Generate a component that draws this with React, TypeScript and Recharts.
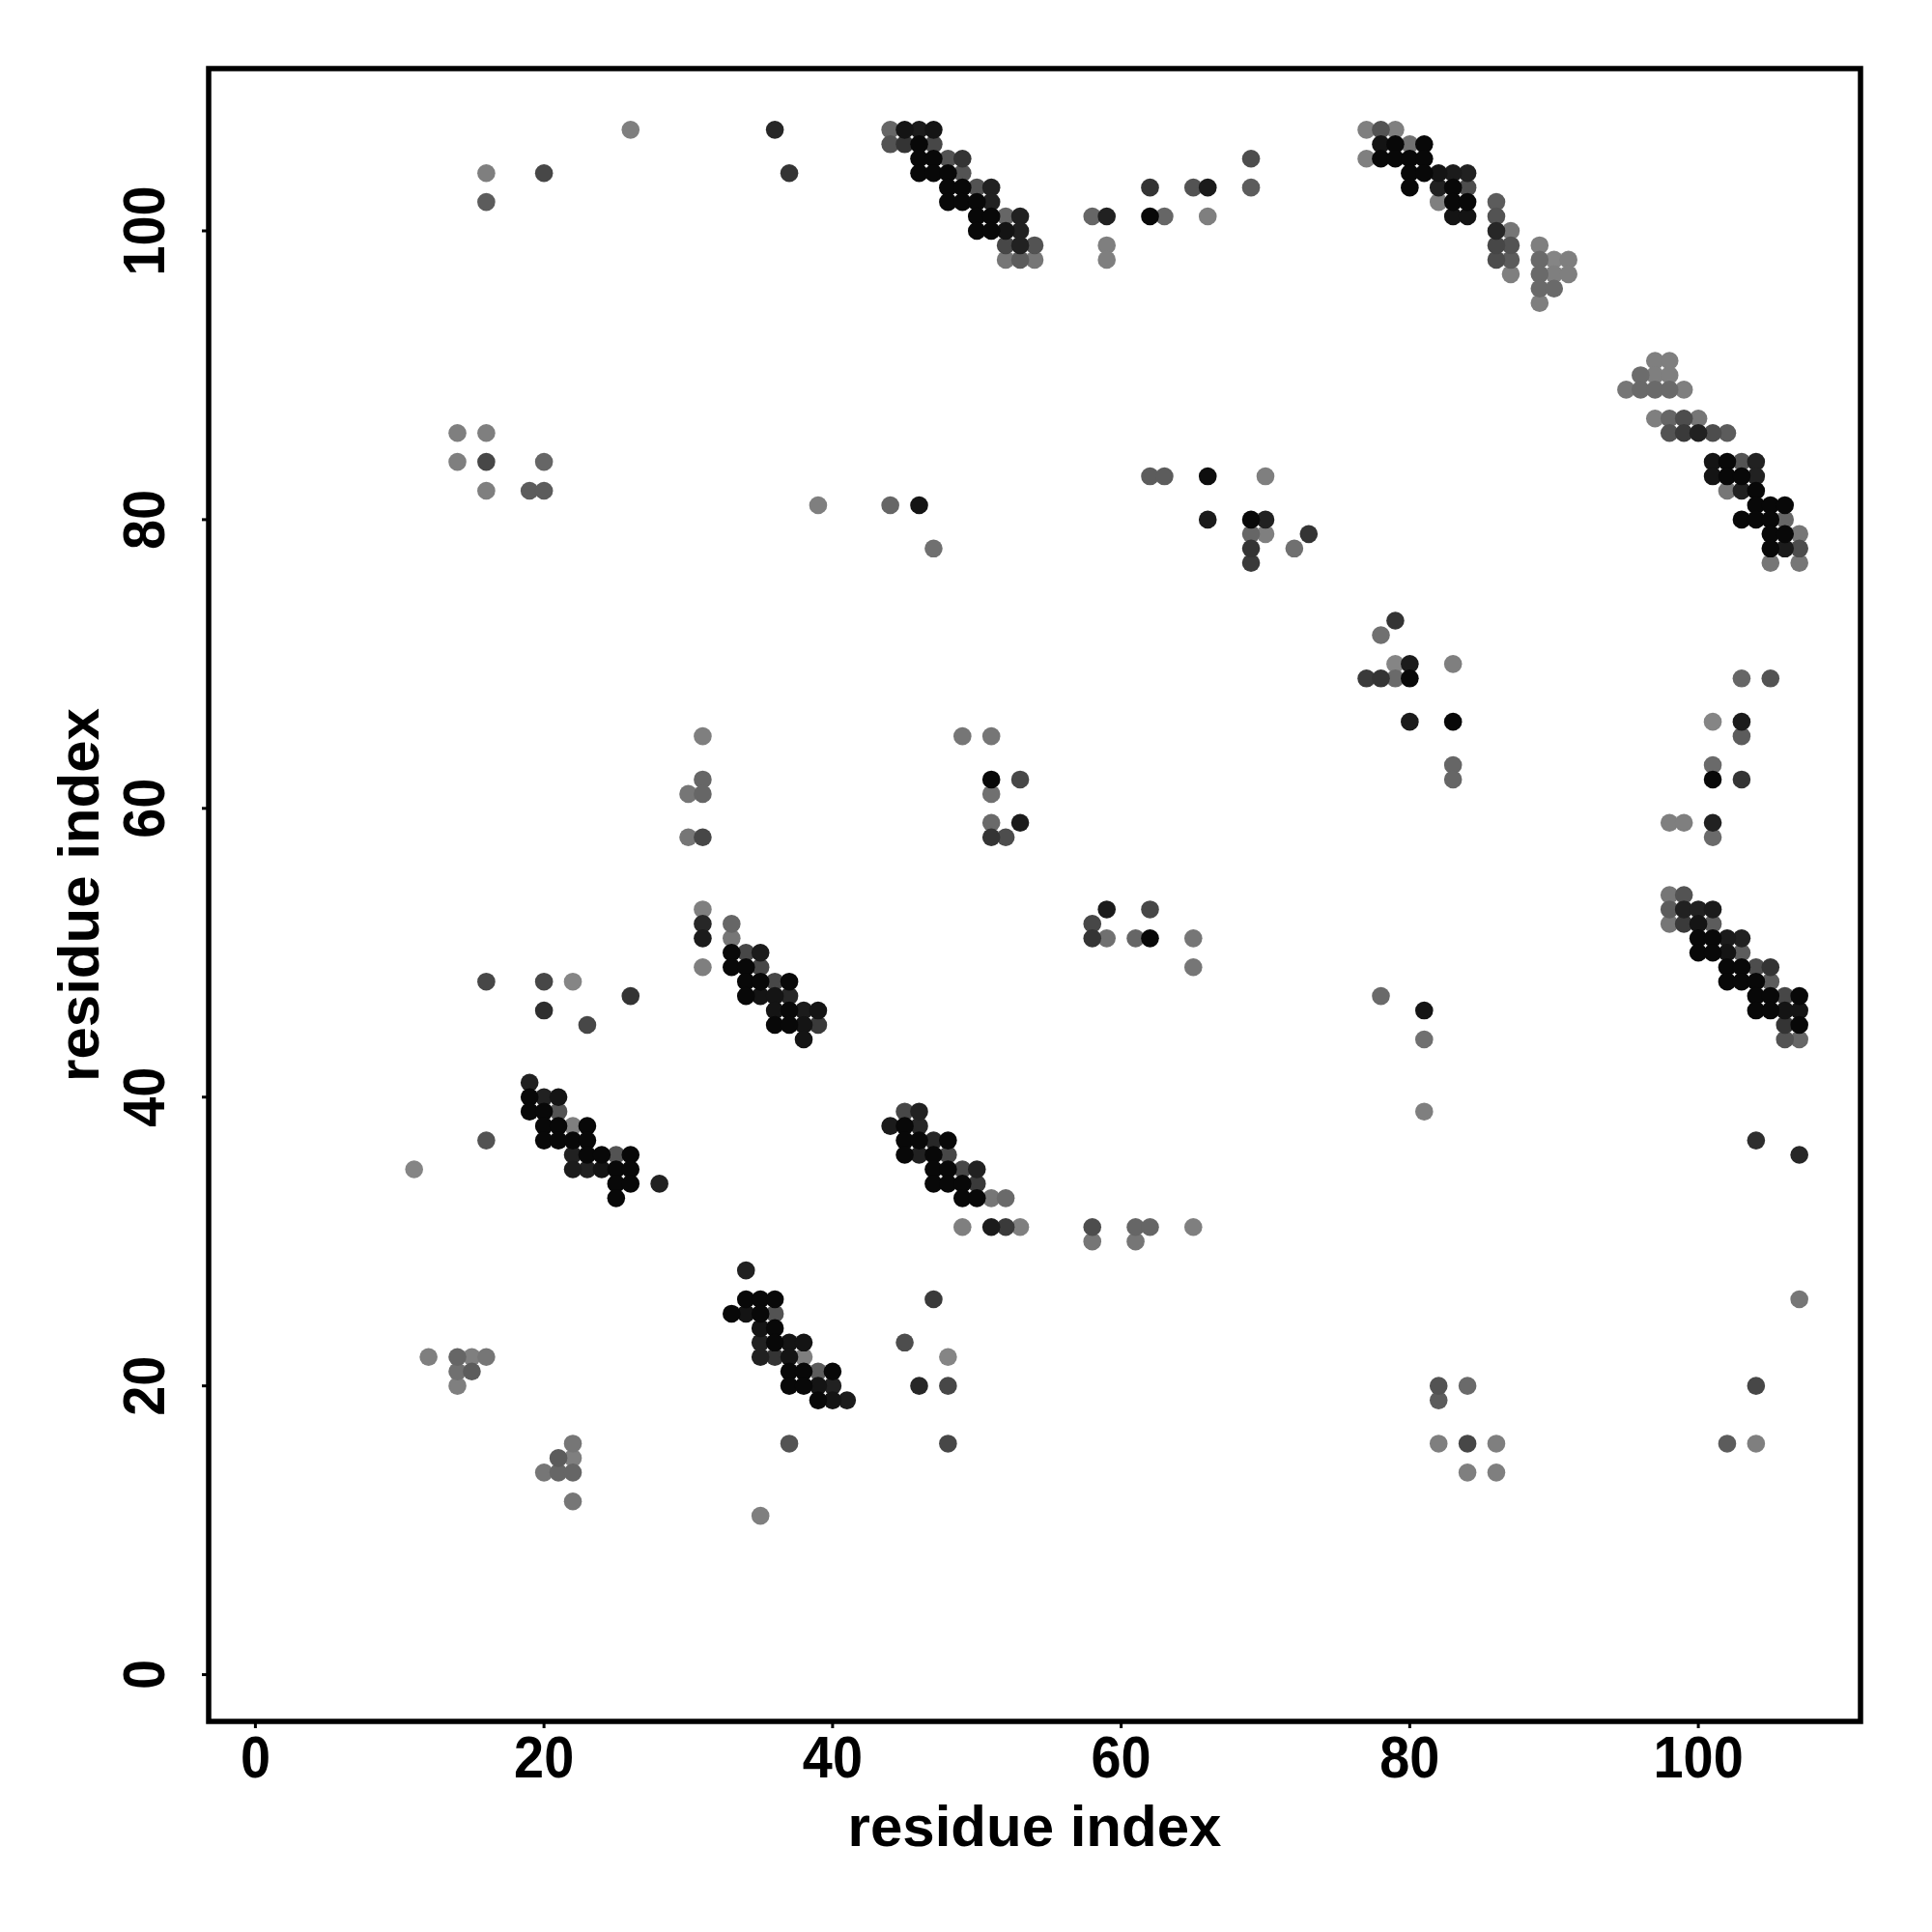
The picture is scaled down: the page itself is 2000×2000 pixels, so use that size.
import { ReferenceArea, Scatter, ScatterChart, XAxis, YAxis } from "recharts";

// each entry: [residue i, residue j, contact score 0..1]
const topLeftContacts = [
  [26, 107, 0.05], [36, 107, 0.75], [16, 104, 0.05], [20, 104, 0.5], [37, 104, 0.65], [16, 102, 0.33],
  [14, 86, 0.05], [16, 86, 0.05], [14, 84, 0.05], [16, 84, 0.5], [20, 84, 0.25], [16, 82, 0.05],
  [19, 82, 0.33], [20, 82, 0.33], [39, 81, 0.05],
];

const band44to54 = [
  [44, 107, 0.25], [45, 107, 0.9], [46, 107, 0.85], [47, 107, 0.9],
  [44, 106, 0.4], [45, 106, 0.65], [46, 106, 1], [47, 106, 0.5],
  [46, 105, 1], [47, 105, 1], [48, 105, 0.4], [49, 105, 0.65],
  [46, 104, 1], [47, 104, 1], [48, 104, 1], [49, 104, 0.4],
  [48, 103, 1], [49, 103, 1], [50, 103, 0.4], [51, 103, 0.8],
  [48, 102, 1], [49, 102, 1], [50, 102, 1], [51, 102, 0.8],
  [50, 101, 1], [51, 101, 1], [52, 101, 0.25], [53, 101, 0.8],
  [50, 100, 1], [51, 100, 1], [52, 100, 0.9], [53, 100, 0.8],
  [52, 99, 0.5], [53, 99, 0.8], [54, 99, 0.4],
  [52, 98, 0.12], [53, 98, 0.33], [54, 98, 0.12],
];

const topMiddleContacts = [
  [58, 101, 0.25], [59, 101, 0.8], [59, 99, 0.05], [59, 98, 0.05],
  [62, 103, 0.65], [62, 101, 1], [63, 101, 0.25], [65, 103, 0.4], [66, 103, 0.85], [66, 101, 0.05],
  [69, 105, 0.45], [69, 103, 0.33],
  [62, 83, 0.33], [63, 83, 0.33], [66, 83, 0.95], [70, 83, 0.05],
  [44, 81, 0.25], [46, 81, 0.9], [47, 78, 0.17],
  [66, 80, 0.85], [69, 80, 1], [70, 80, 0.8], [69, 79, 0.25], [70, 79, 0.05], [73, 79, 0.65],
  [72, 78, 0.17], [69, 78, 0.65], [69, 77, 0.6],
];

const band77to91 = [
  [77, 107, 0.05], [78, 107, 0.4], [79, 107, 0.05],
  [78, 106, 0.9], [79, 106, 1], [80, 106, 0.17], [81, 106, 1],
  [77, 105, 0.05], [78, 105, 1], [79, 105, 1], [80, 105, 1], [81, 105, 1],
  [80, 104, 1], [81, 104, 1], [82, 104, 0.9], [83, 104, 0.85], [84, 104, 0.8],
  [80, 103, 1], [82, 103, 0.8], [83, 103, 1], [84, 103, 0.45],
  [82, 102, 0.05], [83, 102, 1], [84, 102, 1], [86, 102, 0.33],
  [83, 101, 0.9], [84, 101, 0.9], [86, 101, 0.4],
  [86, 100, 0.75], [87, 100, 0.12],
  [86, 99, 0.5], [87, 99, 0.4], [89, 99, 0.05],
  [86, 98, 0.45], [87, 98, 0.33], [89, 98, 0.22], [90, 98, 0], [91, 98, 0.05],
  [87, 97, 0.05], [89, 97, 0.22], [90, 97, 0.05], [91, 97, 0.05],
  [89, 96, 0.22], [90, 96, 0.22],
  [89, 95, 0.05],
];

const band95to107 = [
  [97, 91, 0.05], [98, 91, 0.05],
  [96, 90, 0.2], [97, 90, 0.05], [98, 90, 0.05],
  [95, 89, 0.12], [96, 89, 0.22], [97, 89, 0.22], [98, 89, 0.22], [99, 89, 0.05],
  [97, 87, 0.05], [98, 87, 0.25], [99, 87, 0.45], [100, 87, 0.12],
  [98, 86, 0.4], [99, 86, 0.6], [100, 86, 0.8], [101, 86, 0.45], [102, 86, 0.33],
  [101, 84, 0.9], [102, 84, 1], [103, 84, 0.4], [104, 84, 0.8],
  [101, 83, 0.9], [102, 83, 1], [103, 83, 1], [104, 83, 0.8],
  [102, 82, 0.12], [103, 82, 0.8], [104, 82, 1],
  [104, 81, 1], [105, 81, 1], [106, 81, 1],
  [103, 80, 1], [104, 80, 1], [105, 80, 1], [106, 80, 0.25],
  [105, 79, 1], [106, 79, 1], [107, 79, 0.12],
  [105, 78, 1], [106, 78, 0.85], [107, 78, 0.45],
  [105, 77, 0.12], [107, 77, 0.12],
];

const band33to39 = [
  [31, 65, 0.05], [31, 62, 0.25], [30, 61, 0.12], [31, 61, 0.25], [30, 58, 0.12], [31, 58, 0.5],
  [31, 53, 0.05], [31, 52, 0.75], [31, 51, 0.85], [31, 49, 0.05],
  [33, 52, 0.25], [33, 51, 0.12],
  [33, 50, 1], [34, 50, 0.5], [35, 50, 0.85],
  [33, 49, 1], [34, 49, 1], [35, 49, 0.5],
  [34, 48, 1], [35, 48, 1], [36, 48, 0.5], [37, 48, 1],
  [34, 47, 1], [35, 47, 0.9], [36, 47, 0.9], [37, 47, 0.75],
  [36, 46, 0.9], [37, 46, 1], [38, 46, 0.85], [39, 46, 0.9],
  [36, 45, 1], [37, 45, 1], [38, 45, 0.9], [39, 45, 0.6],
  [38, 44, 0.9],
];

const leftMidContacts = [
  [16, 48, 0.5], [20, 48, 0.5], [22, 48, 0], [20, 46, 0.7], [26, 47, 0.65], [23, 45, 0.5],
];

const midContacts = [
  [49, 65, 0.12], [51, 65, 0.12], [51, 62, 1], [53, 62, 0.5], [51, 61, 0.17], [51, 59, 0.22],
  [53, 59, 0.85], [51, 58, 0.65], [52, 58, 0.45],
  [59, 53, 0.85], [62, 53, 0.5], [58, 52, 0.5], [58, 51, 0.65], [59, 51, 0.17], [61, 51, 0.25],
  [62, 51, 1], [65, 51, 0.12], [65, 49, 0.12],
];

const rightMidContacts = [
  [79, 73, 0.65], [78, 72, 0.17], [79, 70, 0], [80, 70, 0.85], [77, 69, 0.6], [78, 69, 0.65],
  [79, 69, 0.22], [80, 69, 1], [83, 70, 0.05],
  [80, 66, 0.85], [83, 66, 1], [83, 63, 0.25], [83, 62, 0.25],
  [103, 69, 0.25], [105, 69, 0.4], [101, 66, 0], [103, 66, 0.85], [103, 65, 0.33], [101, 63, 0.22],
  [101, 62, 1], [103, 62, 0.65],
  [98, 59, 0.05], [99, 59, 0.05], [101, 59, 0.8], [101, 58, 0.22],
  [78, 47, 0.22], [81, 46, 0.9], [81, 44, 0.17],
];

const band98to107 = [
  [98, 54, 0.12], [99, 54, 0.4],
  [98, 53, 0.33], [99, 53, 0.8], [100, 53, 0.8], [101, 53, 0.85],
  [98, 52, 0.12], [99, 52, 0.6], [100, 52, 0.9], [101, 52, 0.33],
  [100, 51, 1], [101, 51, 1], [102, 51, 0.85], [103, 51, 0.8],
  [100, 50, 1], [101, 50, 1], [102, 50, 0.9], [103, 50, 0.33],
  [102, 49, 1], [103, 49, 1], [104, 49, 0.45], [105, 49, 0.65],
  [102, 48, 1], [103, 48, 1], [104, 48, 1], [105, 48, 0.33],
  [104, 47, 1], [105, 47, 1], [106, 47, 0.5], [107, 47, 1],
  [104, 46, 1], [105, 46, 1], [106, 46, 0.9], [107, 46, 0.9],
  [106, 45, 0.65], [107, 45, 1],
  [106, 44, 0.4], [107, 44, 0.25],
];

const band19to28 = [
  [19, 41, 0.8],
  [19, 40, 1], [20, 40, 0.8], [21, 40, 0.9],
  [19, 39, 1], [20, 39, 1], [21, 39, 0.4],
  [20, 38, 1], [21, 38, 1], [22, 38, 0.05], [23, 38, 1],
  [20, 37, 1], [21, 37, 1], [22, 37, 1], [23, 37, 1],
  [22, 36, 0.8], [23, 36, 1], [24, 36, 1], [25, 36, 0.4], [26, 36, 1],
  [22, 35, 0.85], [23, 35, 0.8], [24, 35, 0.9], [25, 35, 1], [26, 35, 1],
  [25, 34, 1], [26, 34, 1], [28, 34, 0.8],
  [25, 33, 1],
  [16, 37, 0.4], [11, 35, 0],
];

const band33to41 = [
  [34, 28, 0.8],
  [34, 26, 1], [35, 26, 1], [36, 26, 1],
  [33, 25, 1], [34, 25, 0.9], [35, 25, 1], [36, 25, 0.4],
  [35, 24, 0.9], [36, 24, 1],
  [35, 23, 0.8], [36, 23, 1], [37, 23, 0.9], [38, 23, 0.9],
  [35, 22, 0.8], [36, 22, 0.65], [37, 22, 0.9], [38, 22, 0.05],
  [37, 21, 1], [38, 21, 1], [39, 21, 0.33], [40, 21, 1],
  [37, 20, 1], [38, 20, 1], [39, 20, 0.9], [40, 20, 0.8],
  [39, 19, 1], [40, 19, 0.9], [41, 19, 0.85],
];

const lowLeftContacts = [
  [12, 22, 0.05], [14, 22, 0.25], [15, 22, 0.05], [16, 22, 0.12], [14, 21, 0.17], [15, 21, 0.33],
  [14, 20, 0.05],
  [22, 16, 0.12], [21, 15, 0.33], [22, 15, 0.05], [20, 14, 0.12], [21, 14, 0.25], [22, 14, 0.25],
  [22, 12, 0.12], [37, 16, 0.4], [35, 11, 0.05],
];

const band44to53 = [
  [45, 39, 0.5], [46, 39, 0.8],
  [44, 38, 0.85], [45, 38, 1], [46, 38, 0.75],
  [45, 37, 1], [46, 37, 1], [47, 37, 0.75], [48, 37, 1],
  [45, 36, 1], [46, 36, 0.8], [47, 36, 1], [48, 36, 0.5],
  [47, 35, 1], [48, 35, 1], [49, 35, 0.5], [50, 35, 0.8],
  [47, 34, 1], [48, 34, 1], [49, 34, 1], [50, 34, 0.6],
  [49, 33, 1], [50, 33, 1], [51, 33, 0.12], [52, 33, 0.22],
  [49, 31, 0.05], [51, 31, 0.85], [52, 31, 0.6], [53, 31, 0.05],
];

const lowMidContacts = [
  [58, 31, 0.45], [58, 30, 0.12], [61, 31, 0.25], [62, 31, 0.25], [61, 30, 0.12], [65, 31, 0.05],
  [47, 26, 0.6], [45, 23, 0.45], [48, 22, 0], [46, 20, 0.75], [48, 20, 0.5], [48, 16, 0.5],
];

const lowRightContacts = [
  [81, 39, 0.05], [104, 37, 0.7], [107, 36, 0.75], [107, 26, 0.12],
  [82, 20, 0.4], [82, 19, 0.33], [84, 20, 0.22], [104, 20, 0.5],
  [82, 16, 0.05], [84, 16, 0.5], [86, 16, 0.05], [84, 14, 0.05], [86, 14, 0.05],
  [102, 16, 0.33], [104, 16, 0.05],
];

const axisTicks = [0, 20, 40, 60, 80, 100];
const axisTitle = "residue index";

const contacts = [
  ...topLeftContacts, ...band44to54, ...topMiddleContacts, ...band77to91, ...band95to107,
  ...band33to39, ...leftMidContacts, ...midContacts, ...rightMidContacts, ...band98to107,
  ...band19to28, ...band33to41, ...lowLeftContacts, ...band44to53, ...lowMidContacts,
  ...lowRightContacts,
]
  .map(([x, y, s]) => ({ x, y, s }))
  .sort((a, b) => a.s - b.s); // darker contacts drawn on top

const LIM: [number, number] = [-3.24, 111.24];
const FONT = "'Liberation Sans', Arial, Helvetica, sans-serif";

function shade(s: number) {
  const g = Math.round(8 + (1 - s) * 125);
  return `rgb(${g},${g},${g})`;
}

function Dot(props: any) {
  const { cx, cy, payload } = props;
  if (cx == null || cy == null) return null;
  return <circle cx={cx} cy={cy} r={9.3} fill={shade(payload.s)} />;
}

// tick labels are a narrow bold face in the original, so squeeze them a bit
function XTick(props: any) {
  const { x, y, payload } = props;
  return (
    <text transform={`translate(${x}, ${y + 27}) scale(0.9, 1)`} textAnchor="middle"
      dominantBaseline="central" fontFamily={FONT} fontWeight="bold" fontSize={62} fill="#000">
      {payload.value}
    </text>
  );
}

function YTick(props: any) {
  const { x, y, payload } = props;
  return (
    <text transform={`translate(${x - 58.5}, ${y}) rotate(-90) scale(0.9, 1)`} textAnchor="middle"
      dominantBaseline="central" fontFamily={FONT} fontWeight="bold" fontSize={62} fill="#000">
      {payload.value}
    </text>
  );
}

function XTitle(props: any) {
  const vb = props.viewBox ?? { x: 216, y: 1782, width: 1710 };
  return (
    <text x={vb.x + vb.width / 2} y={vb.y + 129} textAnchor="middle"
      fontFamily={FONT} fontWeight="bold" fontSize={60} fill="#000">
      {axisTitle}
    </text>
  );
}

function YTitle(props: any) {
  const vb = props.viewBox ?? { y: 71, height: 1711 };
  const cy = vb.y + vb.height / 2;
  return (
    <text x={102} y={cy} textAnchor="middle" transform={`rotate(-90, 102, ${cy})`}
      fontFamily={FONT} fontWeight="bold" fontSize={60} fill="#000">
      {axisTitle}
    </text>
  );
}

export default function App() {
  return (
    <div style={{ position: "absolute", left: 0, top: 0, width: 2000, height: 2000, background: "#fff" }}>
      <ScatterChart width={2000} height={2000} margin={{ top: 71, right: 74, bottom: 0, left: 0 }}>
        <XAxis
          type="number"
          dataKey="x"
          domain={LIM}
          ticks={axisTicks}
          allowDataOverflow
          axisLine={false}
          tickLine={{ stroke: "#000", strokeWidth: 3 }}
          tickSize={7}
          height={218}
          tick={<XTick />}
          label={<XTitle />}
        />
        <YAxis
          type="number"
          dataKey="y"
          domain={LIM}
          ticks={axisTicks}
          allowDataOverflow
          axisLine={false}
          tickLine={{ stroke: "#000", strokeWidth: 3 }}
          tickSize={7}
          width={216}
          tick={<YTick />}
          label={<YTitle />}
        />
        <Scatter data={contacts} shape={<Dot />} isAnimationActive={false} />
        <ReferenceArea
          x1={LIM[0]}
          x2={LIM[1]}
          y1={LIM[0]}
          y2={LIM[1]}
          fill="none"
          fillOpacity={0}
          stroke="#000"
          strokeWidth={5.5}
          ifOverflow="visible"
        />
      </ScatterChart>
    </div>
  );
}
